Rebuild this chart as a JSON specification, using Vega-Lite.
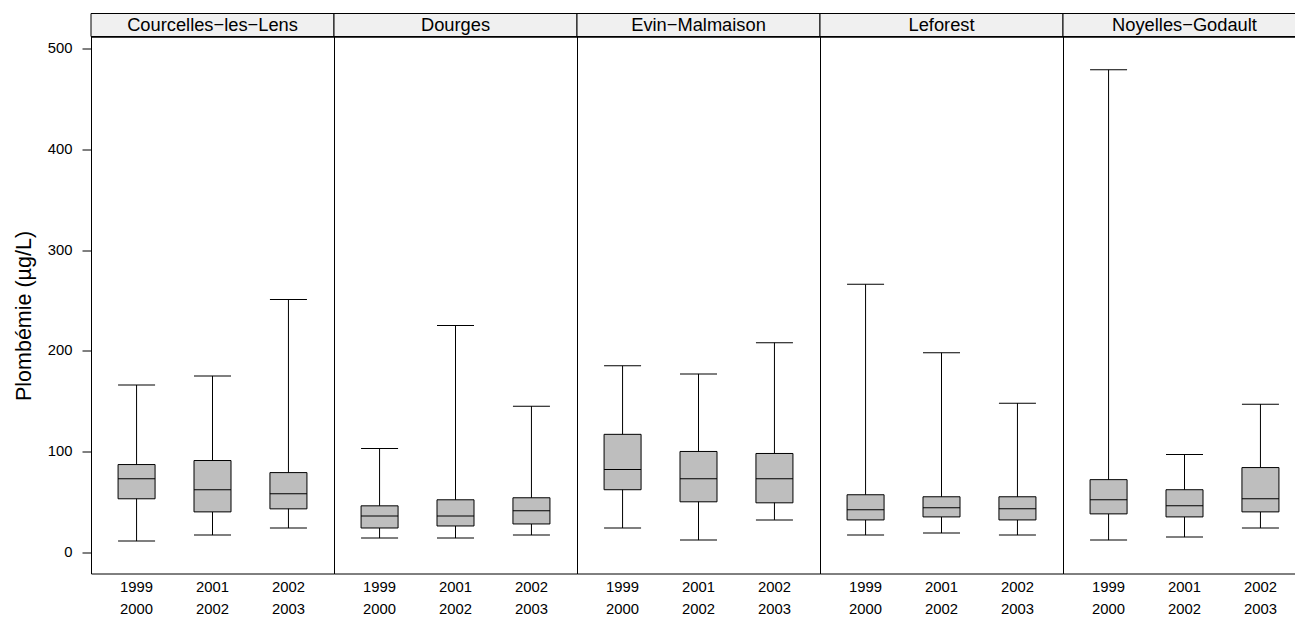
{
  "$schema": "https://vega.github.io/schema/vega-lite/v6.json",
  "padding": {"left": 13, "top": 12.5, "right": 0, "bottom": 0},
  "background": "white",
  "config": {
    "font": "Liberation Sans",
    "view": {"stroke": "black", "strokeWidth": 1}
  },
  "datasets": {
    "sites": [
      {"site": "Courcelles−les−Lens"},
      {"site": "Dourges"},
      {"site": "Evin−Malmaison"},
      {"site": "Leforest"},
      {"site": "Noyelles−Godault"}
    ],
    "boxes": [
      {"site": "Courcelles−les−Lens", "period": "1999-2000", "lo": 11, "q1": 53, "med": 73, "q3": 87, "hi": 166},
      {"site": "Courcelles−les−Lens", "period": "2001-2002", "lo": 17, "q1": 40, "med": 62, "q3": 91, "hi": 175},
      {"site": "Courcelles−les−Lens", "period": "2002-2003", "lo": 24, "q1": 43, "med": 58, "q3": 79, "hi": 251},
      {"site": "Dourges", "period": "1999-2000", "lo": 14, "q1": 24, "med": 36, "q3": 46, "hi": 103},
      {"site": "Dourges", "period": "2001-2002", "lo": 14, "q1": 26, "med": 36, "q3": 52, "hi": 225},
      {"site": "Dourges", "period": "2002-2003", "lo": 17, "q1": 28, "med": 41, "q3": 54, "hi": 145},
      {"site": "Evin−Malmaison", "period": "1999-2000", "lo": 24, "q1": 62, "med": 82, "q3": 117, "hi": 185},
      {"site": "Evin−Malmaison", "period": "2001-2002", "lo": 12, "q1": 50, "med": 73, "q3": 100, "hi": 177},
      {"site": "Evin−Malmaison", "period": "2002-2003", "lo": 32, "q1": 49, "med": 73, "q3": 98, "hi": 208},
      {"site": "Leforest", "period": "1999-2000", "lo": 17, "q1": 32, "med": 42, "q3": 57, "hi": 266},
      {"site": "Leforest", "period": "2001-2002", "lo": 19, "q1": 35, "med": 44, "q3": 55, "hi": 198},
      {"site": "Leforest", "period": "2002-2003", "lo": 17, "q1": 32, "med": 43, "q3": 55, "hi": 148},
      {"site": "Noyelles−Godault", "period": "1999-2000", "lo": 12, "q1": 38, "med": 52, "q3": 72, "hi": 479},
      {"site": "Noyelles−Godault", "period": "2001-2002", "lo": 15, "q1": 35, "med": 46, "q3": 62, "hi": 97},
      {"site": "Noyelles−Godault", "period": "2002-2003", "lo": 24, "q1": 40, "med": 53, "q3": 84, "hi": 147}
    ]
  },
  "spacing": 0,
  "bounds": "flush",
  "vconcat": [
    {
      "data": {"name": "sites"},
      "width": 1215,
      "height": 23,
      "encoding": {
        "x": {"field": "site", "type": "nominal", "sort": null, "axis": null, "scale": {"paddingInner": 0, "paddingOuter": 0}}
      },
      "layer": [
        {"mark": {"type": "rect", "fill": "#f0f0f0", "stroke": "black", "strokeWidth": 1}},
        {"mark": {"type": "text", "fontSize": 18.3, "color": "black", "baseline": "middle", "dy": 1}, "encoding": {"text": {"field": "site"}}}
      ]
    },
    {
      "data": {"name": "boxes"},
      "spacing": 0,
      "bounds": "flush",
      "facet": {"column": {"field": "site", "type": "nominal", "title": null, "header": {"labels": false, "title": null}}},
      "spec": {
        "width": 243,
        "height": 537,
        "encoding": {
          "x": {
            "field": "period", "type": "nominal", "title": null,
            "scale": {"paddingInner": 0, "paddingOuter": 0.1},
            "axis": {"labelExpr": "split(datum.label, '-')", "domain": false, "ticks": false, "tickSize": 0, "labelFontSize": 14.8, "labelLineHeight": 22, "labelPadding": 6, "labelAngle": 0, "labelColor": "black", "labelBaseline": "top"}
          }
        },
        "layer": [
          {
            "mark": {"type": "rule", "color": "black", "strokeWidth": 1},
            "encoding": {
              "y": {"field": "lo", "type": "quantitative", "title": "Plombémie (µg/L)",
                "scale": {"domain": [-21.2, 512.1], "nice": false, "zero": false},
                "axis": {"values": [0, 100, 200, 300, 400, 500], "domain": false, "grid": false, "tickSize": 9, "tickColor": "black", "labelFontSize": 14.8, "labelColor": "black", "labelPadding": 10, "titleFontSize": 21.5, "titleFontWeight": "normal", "titleColor": "black", "titlePadding": 12, "titleY": 279}},
              "y2": {"field": "hi"}
            }
          },
          {
            "mark": {"type": "bar", "size": 37, "fill": "#bebebe", "stroke": "black", "strokeWidth": 1},
            "encoding": {"y": {"field": "q1", "type": "quantitative"}, "y2": {"field": "q3"}}
          },
          {
            "mark": {"type": "tick", "size": 37, "thickness": 1, "color": "black", "opacity": 1},
            "encoding": {"y": {"field": "med", "type": "quantitative"}}
          },
          {
            "mark": {"type": "tick", "size": 37, "thickness": 1, "color": "black", "opacity": 1},
            "encoding": {"y": {"field": "lo", "type": "quantitative"}}
          },
          {
            "mark": {"type": "tick", "size": 37, "thickness": 1, "color": "black", "opacity": 1},
            "encoding": {"y": {"field": "hi", "type": "quantitative"}}
          }
        ]
      }
    }
  ]
}
